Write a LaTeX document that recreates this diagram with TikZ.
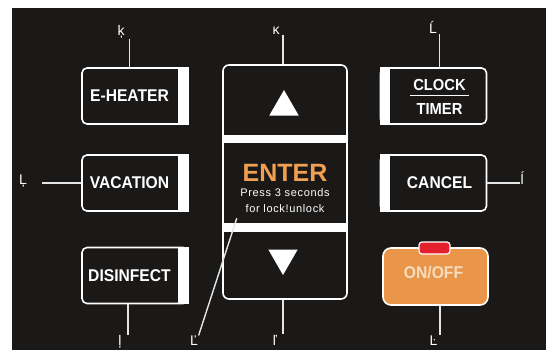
\documentclass[tikz,border=0pt]{standalone}
\usepackage{fontspec}
\setmainfont{Liberation Sans}
\newfontfamily\keyfont[FakeStretch=0.92]{Liberation Sans}
\newfontfamily\hintfont[LetterSpace=6]{Liberation Sans}
\usepackage{xcolor}
\usepackage{tikz}
\usetikzlibrary{shapes.geometric, positioning, calc}

\definecolor{panelbg}{HTML}{1B1918}
\definecolor{keyorange}{HTML}{E9964B}
\definecolor{enterorange}{HTML}{F0A050}
\definecolor{ledred}{HTML}{E3202B}
\definecolor{offpale}{HTML}{F7DDBF}

\begin{document}
\begin{tikzpicture}[
    x=1pt, y=-1pt,
    keyframe/.style={draw=white, line width=1.6pt, rounded corners=5pt, fill=panelbg,
        minimum width=106pt, minimum height=56pt, inner sep=0pt},
    keytext/.style={text=white, font=\fontsize{17}{17}\keyfont\bfseries, inner sep=0pt},
    padframe/.style={draw=white, line width=1.6pt, rounded corners=6pt, fill=panelbg,
        minimum width=124pt, minimum height=234pt, inner sep=0pt},
    arrowkey/.style={regular polygon, regular polygon sides=3, fill=white,
        inner sep=0pt, minimum size=34pt},
    leader/.style={white!90!black, line width=1.4pt},
    tag/.style={text=white, font=\fontsize{14}{14}\selectfont, inner sep=0.5pt}
]

% ---------- panel ----------
\useasboundingbox (0,0) rectangle (548,356);
\fill[panelbg] (12,8) rectangle (546,350);

% ---------- left keys (white strip on the right) ----------
\node[keyframe] (eheater) at (135,96) {};
\fill[white] ([xshift=-11pt]eheater.north east) rectangle (eheater.south east);
\node[keytext] (eheatertxt) at ([xshift=-5.5pt]eheater.center) {E-HEATER};

\node[keyframe] (vacation) at (135,183) {};
\fill[white] ([xshift=-11pt]vacation.north east) rectangle (vacation.south east);
\node[keytext] (vacationtxt) at ([xshift=-5.5pt]vacation.center) {VACATION};

\node[keyframe] (disinfect) at (135,275.5) {};
\fill[white] ([xshift=-11pt]disinfect.north east) rectangle (disinfect.south east);
\node[keytext] (disinfecttxt) at ([xshift=-5.5pt]disinfect.center) {DISINFECT};

% ---------- right keys (white strip on the left) ----------
\node[keyframe] (clock) at (433.5,96) {};
\fill[white] (clock.north west) rectangle ([xshift=10pt]clock.south west);
\node[keytext, font=\fontsize{16}{16}\keyfont\bfseries] (clocktxt)
    at ([xshift=6pt, yshift=11pt]clock.center) {CLOCK};
\node[keytext, font=\fontsize{16}{16}\keyfont\bfseries] (timertxt)
    at ([xshift=6pt, yshift=-13pt]clock.center) {TIMER};
\draw[white, line width=1.6pt] ($(clocktxt.south west)+(-3,4.5)$) -- ($(clocktxt.south east)+(3,4.5)$);

\node[keyframe] (cancel) at (433.5,183) {};
\fill[white] (cancel.north west) rectangle ([xshift=10pt]cancel.south west);
\node[keytext] (canceltxt) at ([xshift=6pt]cancel.center) {CANCEL};

% ---------- on/off key with its lamp ----------
\node[keyframe, fill=keyorange, rounded corners=8pt, minimum width=105pt, minimum height=57pt]
    (onoff) at (435.5,276.5) {};
\node[draw=white, line width=1.2pt, fill=ledred, rounded corners=3pt,
    minimum width=31pt, minimum height=12pt, inner sep=0pt] (lamp) at (434.5,248) {};
\node[keytext, text=offpale] (onofftxt) at ([xshift=-2pt, yshift=3.5pt]onoff.center) {ON/OFF};

% ---------- centre pad: up / enter / down ----------
\node[padframe] (pad) at (285,182) {};
\fill[white] ([yshift=-71pt]pad.north west) rectangle ([yshift=-79pt]pad.north east);
\fill[white] ([yshift=-159pt]pad.north west) rectangle ([yshift=-168pt]pad.north east);
\node[minimum width=124pt, minimum height=80pt, inner sep=0pt] (enter) at (285,183) {};

\node[arrowkey] (up) at (284,107) {};
\node[arrowkey, shape border rotate=180] (down) at (283,258) {};

\node[text=enterorange, font=\fontsize{25}{25}\selectfont\bfseries, inner sep=0pt]
    (entertxt) at ([yshift=10pt]enter.center) {ENTER};
\node[text=white, font=\fontsize{11}{16}\hintfont, align=center, inner sep=0pt]
    (hinttxt) at ([yshift=-18pt]enter.center) {Press 3 seconds\\for lock!unlock};

% ---------- callout marks ----------
\node[tag] (lab1) at (121,32) {ķ};
\node[tag] (lab2) at (276,31) {ĸ};
\node[tag] (lab3) at (433,27) {Ĺ};
\node[tag, anchor=west] (lab4) at (520,178.5) {ĺ};
\node[tag] (lab5) at (23,181) {Ļ};
\node[tag] (lab6) at (120,342) {ļ};
\node[tag] (lab7) at (194,341) {Ľ};
\node[tag] (lab8) at (275,340) {ľ};
\node[tag] (lab9) at (433.5,341) {Ŀ};

\coordinate (top1) at ([xshift=-5.5pt]eheater.north);
\coordinate (top3) at ([xshift=6pt]clock.north);
\coordinate (lead5) at ([xshift=14pt]lab5.east);
\coordinate (foot6) at ([xshift=-7pt]disinfect.south);
\coordinate (tail7) at ([xshift=14pt, yshift=5pt]enter.south west);
\coordinate (foot8) at ([xshift=-2pt]pad.south);
\coordinate (foot9) at ([xshift=4.5pt]onoff.south);

\draw[leader] (top1) -- (top1 |- lab1.south);
\draw[leader] ([xshift=-2pt]pad.north) -- ([xshift=-2pt]pad.north |- lab2.south);
\draw[leader] (top3) -- (top3 |- lab3.south);
\draw[leader] (cancel.east) -- (cancel.east -| lab4.west);
\draw[leader] (vacation.west) -- (vacation.west -| lead5);
\draw[leader] (foot6) -- (foot6 |- lab6.north);
\draw[leader] (tail7) -- (lab7.north east);
\draw[leader] (foot8) -- (foot8 |- lab8.north);
\draw[leader] (foot9) -- (foot9 |- lab9.north);

\end{tikzpicture}
\end{document}
